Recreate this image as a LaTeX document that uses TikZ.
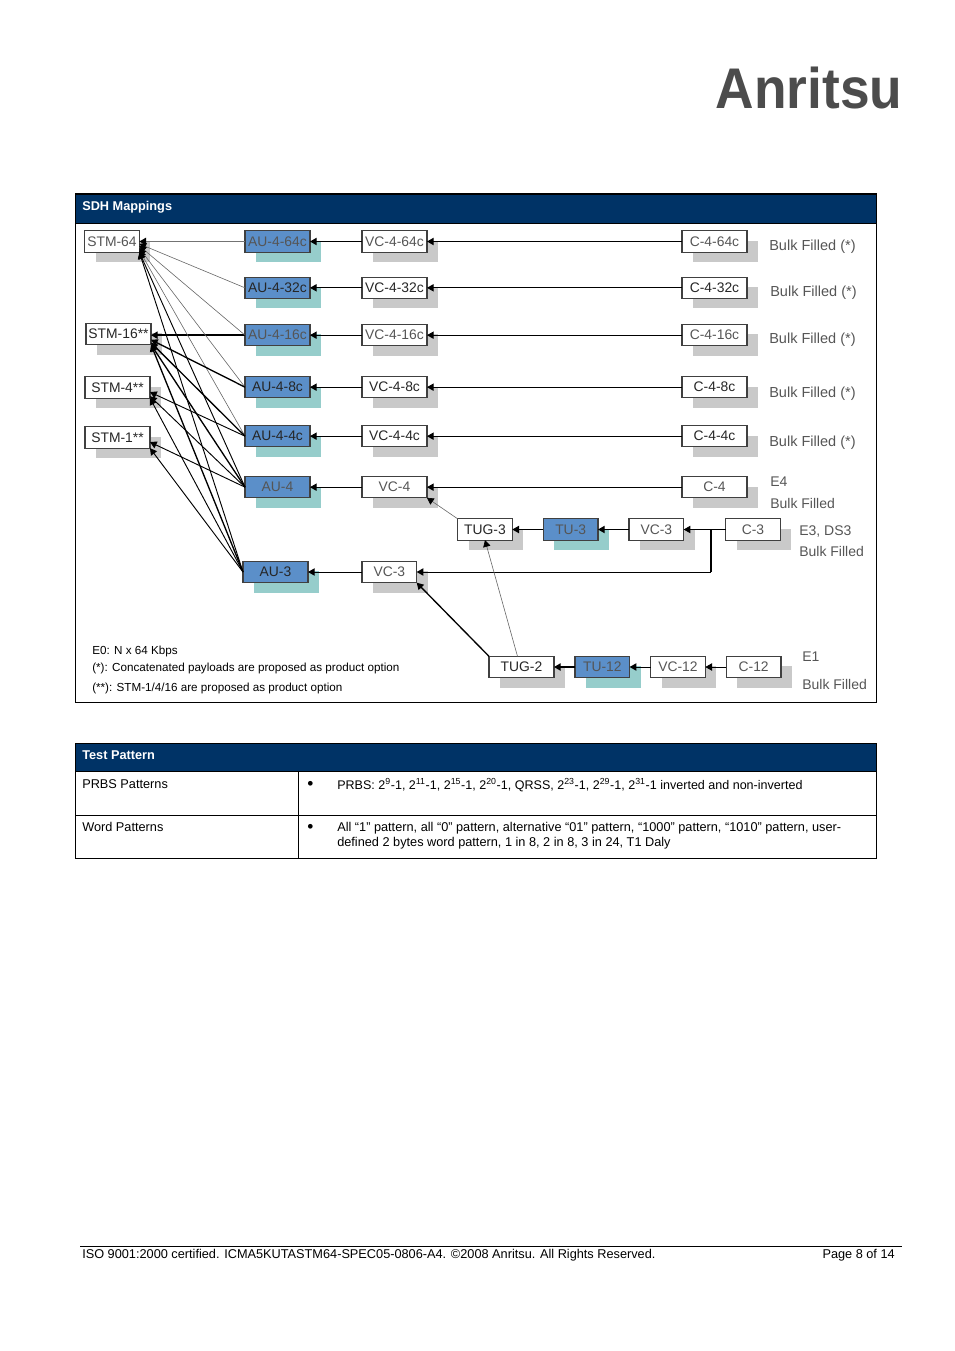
\documentclass[tikz,border=0pt]{standalone}
\usepackage{fontspec}
\setmainfont{Liberation Sans}
\usetikzlibrary{arrows.meta, positioning, shadows}
\definecolor{navy}{HTML}{003366}
\definecolor{aublue}{HTML}{5B8FC9}
\definecolor{auteal}{HTML}{96CDCB}
\definecolor{boxgray}{HTML}{C9C9C9}
\definecolor{inkgray}{HTML}{555555}

\begin{document}
\begin{tikzpicture}[
  x=0.75pt, y=-0.75pt,
  font=\fontsize{10.4}{12}\selectfont,
  whitebox/.style={rectangle, draw=black!75, line width=0.8pt, fill=white, inner sep=0pt, outer sep=0pt,
                   text=black!85, minimum height=16pt, minimum width=48.75pt,
                   drop shadow={shadow xshift=8.25pt, shadow yshift=-7.5pt, fill=boxgray, opacity=1}},
  bluebox/.style={whitebox, fill=aublue,
                  drop shadow={shadow xshift=8.25pt, shadow yshift=-7.5pt, fill=auteal, opacity=1}},
  short/.style={minimum width=41pt},
  pale/.style={text=inkgray},
  arr/.style={-{Triangle[length=5pt, width=5.5pt, color=black]}, line width=0.7pt},
  thin arr/.style={arr, line width=0.45pt, draw=black!60},
  heavy arr/.style={arr, line width=1pt},
  gray arr/.style={arr, line width=0.9pt, draw=black!55},
  note/.style={anchor=west, inner sep=0pt, text=inkgray, font=\fontsize{10.5}{12}\selectfont},
  bulk/.style={note, font=\fontsize{10.9}{12}\selectfont},
  remark/.style={anchor=west, inner sep=0pt, font=\fontsize{8.75}{11}\selectfont},
  small/.style={anchor=west, inner sep=0pt, font=\fontsize{9.55}{11.25}\selectfont, align=left},
  title/.style={small, text=white, font=\fontsize{9.55}{11.25}\selectfont\bfseries},
  banner/.style={anchor=north west, draw=black, fill=navy, inner sep=0pt, outer sep=0pt, minimum width=600.75pt}]
  \useasboundingbox (0,0) rectangle (954,1351);

  \node[text=black!70, inner sep=0pt] (logo) at (809,88)
    {\scalebox{.93}[1]{\fontsize{43}{43}\selectfont\bfseries Anritsu}};

  % SDH table
  \draw[line width=0.75pt] (75,194) rectangle (876,702);
  \node[banner, minimum height=21.75pt] (sdhhead) at (75,194) {};
  \node[title] (sdhtitle) at (82,207) {SDH Mappings};

  \node[whitebox, short, pale] (stm64) at (112,241.5) {STM-64};
  \node[whitebox] (stm16) at (118.5,334) {STM-16**};
  \node[whitebox] (stm4) at (117.5,387.5) {STM-4**};
  \node[whitebox] (stm1) at (117.5,437.5) {STM-1**};

  \node[bluebox, pale] (au64) at (277.5,241.5) {AU-4-64c};
  \node[bluebox, below=18.75pt of au64] (au32) {AU-4-32c};
  \node[bluebox, pale, below=19.5pt of au32] (au16) {AU-4-16c};
  \node[bluebox, below=23pt of au16] (au8) {AU-4-8c};
  \node[bluebox, below=20.75pt of au8] (au4) {AU-4-4c};
  \node[bluebox, pale, below=22.25pt of au4] (au) {AU-4};
  \node[bluebox] (au3) at (275.5,572) {AU-3};

  \node[whitebox, pale, right=39pt of au64] (vc64) {VC-4-64c};
  \node[whitebox, right=39pt of au32] (vc32) {VC-4-32c};
  \node[whitebox, pale, right=39pt of au16] (vc16) {VC-4-16c};
  \node[whitebox, right=39pt of au8] (vc8) {VC-4-8c};
  \node[whitebox, right=39pt of au4] (vc4) {VC-4-4c};
  \node[whitebox, pale, right=39pt of au] (vcfour) {VC-4};
  \node[whitebox, short, pale, right=40.5pt of au3] (vcthree) {VC-3};

  \node[whitebox, pale, right=191.25pt of vc64] (c64) {C-4-64c};
  \node[whitebox, right=191.25pt of vc32] (c32) {C-4-32c};
  \node[whitebox, pale, right=191.25pt of vc16] (c16) {C-4-16c};
  \node[whitebox, right=191.25pt of vc8] (c8) {C-4-8c};
  \node[whitebox, right=191.25pt of vc4] (c4) {C-4-4c};
  \node[whitebox, pale, right=191.25pt of vcfour] (cfour) {C-4};

  \node[whitebox, short] (tug3) at (485,529.5) {TUG-3};
  \node[bluebox, short, pale, right=23.25pt of tug3] (tu3) {TU-3};
  \node[whitebox, short, pale, right=23.25pt of tu3] (vc3) {VC-3};
  \node[whitebox, short, pale, right=31.5pt of vc3] (c3) {C-3};

  \node[whitebox] (tug2) at (521.5,667) {TUG-2};
  \node[bluebox, short, pale, right=15.75pt of tug2] (tu12) {TU-12};
  \node[whitebox, short, pale, right=15.75pt of tu12] (vc12) {VC-12};
  \node[whitebox, short, pale, right=15.75pt of vc12] (c12) {C-12};

  \node[bulk] (bf64) at (769,246.5) {Bulk Filled (*)};
  \node[bulk] (bf32) at (770,292.5) {Bulk Filled (*)};
  \node[bulk] (bf16) at (769,339.5) {Bulk Filled (*)};
  \node[bulk] (bf8) at (769,393.5) {Bulk Filled (*)};
  \node[bulk] (bf4) at (769,442.5) {Bulk Filled (*)};
  \node[note] (efour) at (770,482) {E4};
  \node[note] (bfe4) at (770,503) {Bulk Filled};
  \node[note] (ethree) at (799,532) {E3, DS3};
  \node[note] (bfe3) at (799,551) {Bulk Filled};
  \node[note] (eone) at (802,657) {E1};
  \node[note] (bfe1) at (802,684) {Bulk Filled};

  \node[remark] (eos) at (92,651) {E0: N x 64 Kbps};
  \node[remark] (stara) at (92,668) {(*): Concatenated payloads are proposed as product option};
  \node[remark] (starb) at (92,688) {(**): STM-1/4/16 are proposed as product option};

  % rows
  \draw[gray arr] (au64) -- (stm64);
  \draw[heavy arr] (au16.west) -- (au16.west -| stm16.east);
  \foreach \from/\to in {vc64/au64, vc32/au32, vc16/au16, vc8/au8, vc4/au4, vcfour/au,
                         c64/vc64, c32/vc32, c16/vc16, c8/vc8, c4/vc4, cfour/vcfour,
                         vcthree/au3, tu3/tug3, vc3/tu3, c3/vc3, vc12/tu12, c12/vc12}
    \draw[arr] (\from) -- (\to);
  \draw[heavy arr] (tu12) -- (tug2);
  \draw[thin arr] (tug3.north west) -- (vcfour.south east);
  \coordinate (split) at (c3.west -| 711,0);
  \coordinate (bend) at (vcthree.east -| split);
  \draw[line width=1.2pt] (split) -- (bend);
  \draw[arr] (bend) -- (vcthree.east);
  \draw[thin arr] (tug2.north) ++(-4,0) -- (tug3.south);
  \draw[heavy arr] (tug2.north west) -- (vcthree.south east);

  % into STM-64
  \draw[thin arr] (au32.west) -- (stm64.-5);
  \draw[thin arr] (au16.west) -- (stm64.-9);
  \draw[thin arr] (au8.west) -- (stm64.-14);
  \draw[thin arr] (au4.west) -- (stm64.-18);
  \draw[arr] (au.west) -- (stm64.south east);
  \draw[arr] (au3.west) -- (stm64.south east);
  % into STM-16
  \draw[heavy arr] (au8.west) -- (stm16.-10);
  \draw[heavy arr] (au4.west) -- (stm16.-15);
  \draw[heavy arr] (au.west) -- (stm16.south east);
  \draw[heavy arr] (au3.west) -- (stm16.south east);
  % into STM-4
  \draw[arr] (au4.west) -- (stm4.-8);
  \draw[arr] (au.west) -- (stm4.-15);
  \draw[arr] (au3.west) -- (stm4.south east);
  % into STM-1
  \draw[arr] (au.west) -- (stm1.-8);
  \draw[arr] (au3.west) -- (stm1.south east);

  % test pattern table
  \draw[line width=0.75pt] (75,743) rectangle (876,858);
  \node[banner, minimum height=21pt] (testhead) at (75,743) {};
  \node[title] (testtitle) at (82,755) {Test Pattern};
  \draw[line width=0.75pt] (75,815) -- (876,815);
  \draw[line width=0.75pt] (298,771) -- (298,858);
  \node[small] (prbslabel) at (82,784) {PRBS Patterns};
  \node[small] (wordlabel) at (82,827) {Word Patterns};
  \node[small, font=\fontsize{13}{13}\selectfont] (bulleta) at (307,785) {\textbullet};
  \node[small, font=\fontsize{13}{13}\selectfont] (bulletb) at (307,828) {\textbullet};
  \node[small, font=\fontsize{9.4}{11.25}\selectfont] (prbstext) at (337,785)
    {PRBS: 2\textsuperscript{9}-1, 2\textsuperscript{11}-1, 2\textsuperscript{15}-1, 2\textsuperscript{20}-1, QRSS, 2\textsuperscript{23}-1, 2\textsuperscript{29}-1, 2\textsuperscript{31}-1 inverted and non-inverted};
  \node[small] (wordtext) at (337,836)
    {All “1” pattern, all “0” pattern, alternative “01” pattern, “1000” pattern, “1010” pattern, user-\\defined 2 bytes word pattern, 1 in 8, 2 in 8, 3 in 24, T1 Daly};

  % footer
  \draw[line width=0.5pt] (80,1246) -- (902,1246);
  \node[small] (foot) at (82,1255) {ISO 9001:2000 certified. ICMA5KUTASTM64-SPEC05-0806-A4. ©2008 Anritsu. All Rights Reserved.};
  \node[small, anchor=east] (page) at (895,1255) {Page 8 of 14};
\end{tikzpicture}
\end{document}
